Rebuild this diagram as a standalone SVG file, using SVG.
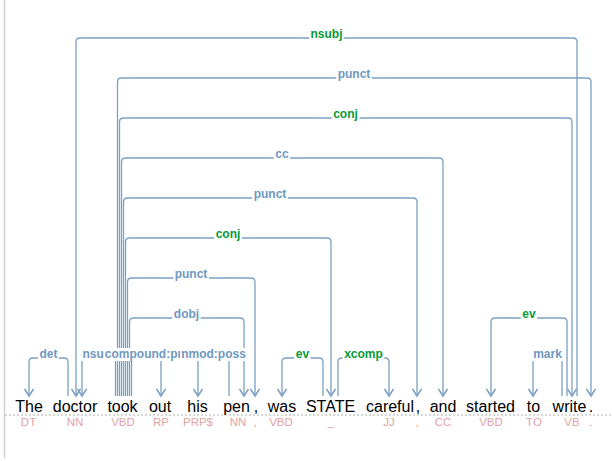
<svg xmlns="http://www.w3.org/2000/svg" width="612" height="461" viewBox="0 0 612 461">
<style>
.arc{fill:none;stroke:#7ba0c3;stroke-width:1.3}
.lb{font-family:"Liberation Sans",Arial,sans-serif;font-size:12px;font-weight:bold;text-anchor:middle}
.b{fill:#6f98c0}
.g{fill:#079a3a}
.bg{fill:#ffffff}
.w{font-family:"Liberation Sans",Arial,sans-serif;font-size:16px;fill:#000;text-anchor:middle}
.t{font-family:"Liberation Sans",Arial,sans-serif;font-size:11.5px;fill:#e3a3a0;text-anchor:middle}
</style>
<defs>
<marker id="ah" markerUnits="userSpaceOnUse" orient="auto-start-reverse" overflow="visible" markerWidth="1" markerHeight="1" refX="0" refY="0">
<path d="M-7,-4.5 L0,0 L-7,4.5" fill="none" stroke="#7ba0c3" stroke-width="1.5"/>
</marker>
</defs>
<rect x="0" y="0" width="612" height="461" fill="#ffffff"/>
<line x1="4.5" y1="0" x2="4.5" y2="458" stroke="#d0d0d0" stroke-width="1.5"/>
<line x1="5" y1="415" x2="612" y2="415" stroke="#b0b0b0" stroke-width="1" stroke-dasharray="2,2"/>

<g id="connectors">
<path class="arc" marker-start="url(#ah)" d="M29,396 V362 Q29,358 33,358 H64 Q68,358 68,362 V396"/>
<path class="arc" marker-start="url(#ah)" d="M82,396 V362 Q82,358 86,358 H111.5 Q115.5,358 115.5,362 V396"/>
<path class="arc" marker-end="url(#ah)" d="M131.5,396 V362 Q131.5,358 135.5,358 H157 Q161,358 161,362 V396"/>
<path class="arc" marker-start="url(#ah)" d="M198,396 V362 Q198,358 202,358 H225 Q229,358 229,362 V396"/>
<path class="arc" marker-start="url(#ah)" d="M282,396 V362 Q282,358 286,358 H319 Q323,358 323,362 V396"/>
<path class="arc" marker-end="url(#ah)" d="M338,396 V362 Q338,358 342,358 H385 Q389,358 389,362 V396"/>
<path class="arc" marker-start="url(#ah)" d="M533,396 V362 Q533,358 537,358 H558 Q562,358 562,362 V396"/>
<path class="arc" marker-end="url(#ah)" d="M129.5,396 V322 Q129.5,318 133.5,318 H240 Q244,318 244,322 V396"/>
<path class="arc" marker-start="url(#ah)" d="M491,396 V322 Q491,318 495,318 H563 Q567,318 567,322 V396"/>
<path class="arc" marker-end="url(#ah)" d="M127.5,396 V282 Q127.5,278 131.5,278 H251 Q255,278 255,282 V396"/>
<path class="arc" marker-end="url(#ah)" d="M125.5,396 V242 Q125.5,238 129.5,238 H327 Q331,238 331,242 V396"/>
<path class="arc" marker-end="url(#ah)" d="M123.5,396 V202 Q123.5,198 127.5,198 H413 Q417,198 417,202 V396"/>
<path class="arc" marker-end="url(#ah)" d="M121.5,396 V162 Q121.5,158 125.5,158 H439 Q443,158 443,162 V396"/>
<path class="arc" marker-end="url(#ah)" d="M119.5,396 V122 Q119.5,118 123.5,118 H568 Q572,118 572,122 V396"/>
<path class="arc" marker-end="url(#ah)" d="M117.5,396 V82 Q117.5,78 121.5,78 H587 Q591,78 591,82 V396"/>
<path class="arc" marker-start="url(#ah)" d="M76,396 V42 Q76,38 80,38 H573 Q577,38 577,42 V396"/>

<rect class="bg" x="38" y="348" width="21" height="13"/><text class="lb b" x="48.5" y="358">det</text>
<rect class="bg" x="81" y="348" width="35" height="13"/><text class="lb b" x="98.5" y="358">nsubj</text>
<rect class="bg" x="104" y="348" width="84" height="13"/><text class="lb b" x="145.5" y="358">compound:prt</text>
<rect class="bg" x="180.2" y="348" width="66.7" height="13"/><text class="lb b" x="213.5" y="358">nmod:poss</text>
<rect class="bg" x="294.3" y="348" width="16.3" height="13"/><text class="lb g" x="302.5" y="358">ev</text>
<rect class="bg" x="342.7" y="348" width="41.7" height="13"/><text class="lb g" x="363.5" y="358">xcomp</text>
<rect class="bg" x="531.7" y="348" width="31.7" height="13"/><text class="lb b" x="547.5" y="358">mark</text>
<rect class="bg" x="172.3" y="308" width="28.3" height="13"/><text class="lb b" x="186.5" y="318">dobj</text>
<rect class="bg" x="520.8" y="308" width="16.3" height="13"/><text class="lb g" x="529" y="318">ev</text>
<rect class="bg" x="173.2" y="268" width="35.7" height="13"/><text class="lb b" x="191" y="278">punct</text>
<rect class="bg" x="214.2" y="228" width="27.7" height="13"/><text class="lb g" x="228" y="238">conj</text>
<rect class="bg" x="252.2" y="188" width="35.7" height="13"/><text class="lb b" x="270" y="198">punct</text>
<rect class="bg" x="273.8" y="148" width="16.3" height="13"/><text class="lb b" x="282" y="158">cc</text>
<rect class="bg" x="331.7" y="108" width="27.7" height="13"/><text class="lb g" x="345.5" y="118">conj</text>
<rect class="bg" x="336.2" y="68" width="35.7" height="13"/><text class="lb b" x="354" y="78">punct</text>
<rect class="bg" x="309" y="28" width="35" height="13"/><text class="lb g" x="326.5" y="38">nsubj</text>
</g>

<g id="w1"><text class="w" x="29" y="412">The</text><text class="t" x="28.5" y="426">DT</text></g>
<g id="w2"><text class="w" x="75" y="412">doctor</text><text class="t" x="75" y="426">NN</text></g>
<g id="w3"><text class="w" x="122.5" y="412">took</text><text class="t" x="123" y="426">VBD</text></g>
<g id="w4"><text class="w" x="160" y="412">out</text><text class="t" x="161" y="426">RP</text></g>
<g id="w5"><text class="w" x="197.5" y="412">his</text><text class="t" x="198" y="426">PRP$</text></g>
<g id="w6"><text class="w" x="236.5" y="412">pen</text><text class="t" x="238" y="426">NN</text></g>
<g id="w7"><text class="w" x="256" y="412">,</text><text class="t" x="255" y="426">,</text></g>
<g id="w8"><text class="w" x="282" y="412">was</text><text class="t" x="281" y="426">VBD</text></g>
<g id="w9"><text class="w" x="330.5" y="412">STATE</text><text class="t" x="331" y="426">_</text></g>
<g id="w10"><text class="w" x="390" y="412">careful</text><text class="t" x="389" y="426">JJ</text></g>
<g id="w11"><text class="w" x="418" y="412">,</text><text class="t" x="417" y="426">,</text></g>
<g id="w12"><text class="w" x="443" y="412">and</text><text class="t" x="443" y="426">CC</text></g>
<g id="w13"><text class="w" x="490.5" y="412">started</text><text class="t" x="491" y="426">VBD</text></g>
<g id="w14"><text class="w" x="533.5" y="412">to</text><text class="t" x="534" y="426">TO</text></g>
<g id="w15"><text class="w" x="569.5" y="412">write</text><text class="t" x="572" y="426">VB</text></g>
<g id="w16"><text class="w" x="591" y="412">.</text><text class="t" x="591" y="426">.</text></g>
</svg>
